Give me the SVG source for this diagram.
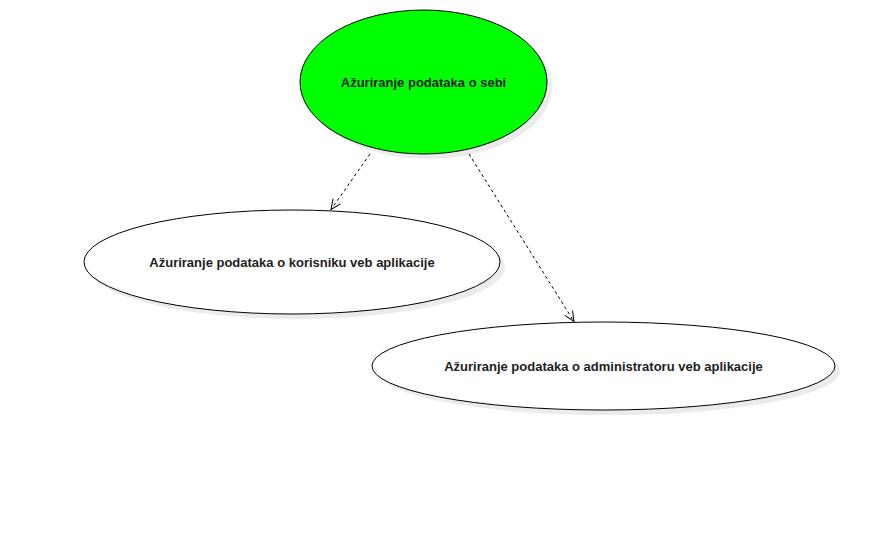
<svg xmlns="http://www.w3.org/2000/svg" width="875" height="548" viewBox="0 0 875 548">
<style>
.shadow{fill:#000;fill-opacity:0.08;stroke:none}
.uc{stroke:#000;stroke-width:1}
.lbl{font-family:"Liberation Sans",Arial,sans-serif;font-size:13px;font-weight:bold;fill:#222;text-anchor:middle;dominant-baseline:central}
.dep{fill:none;stroke:#000;stroke-width:1;stroke-dasharray:3,3}
</style>
<defs>
<marker id="open" viewBox="0 0 12 12" refX="11" refY="6" markerWidth="12" markerHeight="12" markerUnits="userSpaceOnUse" orient="auto">
<path d="M1,1.5 L11,6 L1,10.5" fill="none" stroke="#000" stroke-width="1"/>
</marker>
</defs>
<rect width="875" height="548" fill="#fff"/>
<g id="node-sebi">
<ellipse class="shadow" cx="428.5" cy="87" rx="123.5" ry="72"/>
<ellipse class="uc" cx="423.5" cy="82" rx="123.5" ry="72" fill="#00ff00"/>
<text class="lbl" x="423.5" y="82">Ažuriranje podataka o sebi</text>
</g>
<g id="node-korisnik">
<ellipse class="shadow" cx="297" cy="267" rx="208" ry="52"/>
<ellipse class="uc" cx="292" cy="262" rx="208" ry="52" fill="#fff"/>
<text class="lbl" x="292" y="262">Ažuriranje podataka o korisniku veb aplikacije</text>
</g>
<g id="node-admin">
<ellipse class="shadow" cx="608.5" cy="371" rx="231.5" ry="44"/>
<ellipse class="uc" cx="603.5" cy="366" rx="231.5" ry="44" fill="#fff"/>
<text class="lbl" x="603.5" y="366">Ažuriranje podataka o administratoru veb aplikacije</text>
</g>
<g id="connectors">
<line class="dep" x1="370" y1="154" x2="331" y2="209.5" marker-end="url(#open)"/>
<line class="dep" x1="469" y1="154" x2="574" y2="321.5" marker-end="url(#open)"/>
</g>
</svg>
